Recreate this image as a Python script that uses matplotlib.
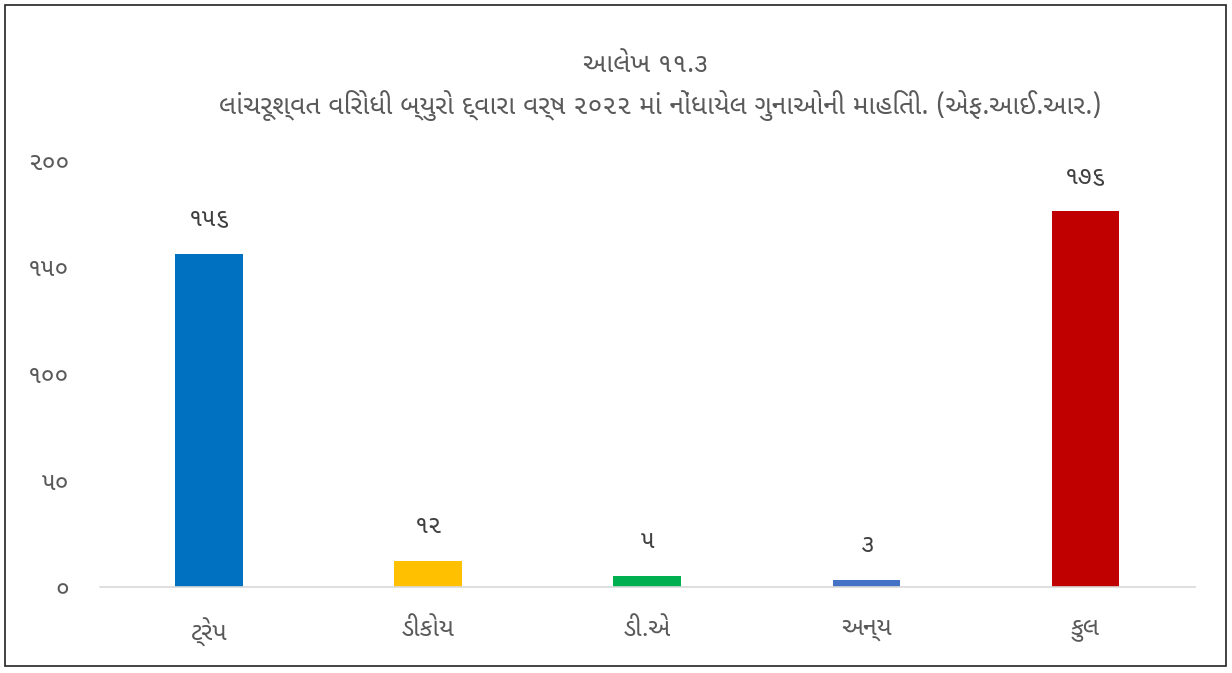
import matplotlib
matplotlib.use("Agg")
import matplotlib.pyplot as plt
from matplotlib.patches import Rectangle

plt.rcParams['font.family'] = ['Noto Sans Gujarati UI', 'DejaVu Sans']

# data
categories = ["ટ્રેપ", "ડીકોય", "ડી.એ", "અન્ય", "કુલ"]
values = [156, 12, 5, 3, 176]
colors = ["#0070C0", "#FFC000", "#00B050", "#4472C4", "#C00000"]
gu_digits = "૦૧૨૩૪૫૬૭૮૯"
yticks = [0, 50, 100, 150, 200]

title_1 = "આલેખ ૧૧.૩"
title_2 = "લાંચરૂશ્વત વિરોધી બ્યુરો દ્વારા વર્ષ ૨૦૨૨ માં નોંધાયેલ ગુનાઓની માહિતી. (એફ.આઈ.આર.)"


def gu_num(n):
    return "".join(gu_digits[int(c)] for c in str(n))


text_grey = "#595959"

fig = plt.figure(figsize=(12.32, 6.73), dpi=100)
ax = fig.add_axes([0.081, 0.128, 0.889, 0.634])

x = range(len(categories))
bars = ax.bar(x, values, width=0.31, color=colors, zorder=2)

for b, v in zip(bars, values):
    ax.annotate(gu_num(v), (b.get_x() + b.get_width() / 2, v),
                xytext=(0, 17), textcoords="offset points",
                ha="center", va="bottom", fontsize=18, color="#404040")

ax.set_xlim(-0.5, len(categories) - 0.5)
ax.set_ylim(0, 200)
ax.set_yticks(yticks)
ax.set_yticklabels([gu_num(t) for t in yticks])
ax.set_xticks(list(x))
ax.set_xticklabels(categories)

ax.tick_params(axis="both", length=0, labelsize=18, labelcolor=text_grey)
ax.tick_params(axis="x", pad=22)
ax.tick_params(axis="y", pad=22)
for s in ["top", "right", "left"]:
    ax.spines[s].set_visible(False)
ax.spines["bottom"].set_color("#D9D9D9")
ax.spines["bottom"].set_linewidth(1.2)

fig.text(0.524, 0.903, title_1, ha="center", va="center", fontsize=19, color=text_grey)
fig.text(0.536, 0.843, title_2, ha="center", va="center", fontsize=19, color=text_grey)

# thin frame round the whole chart
fig.patches.append(Rectangle((0.004, 0.011), 0.991, 0.982, transform=fig.transFigure,
                             fill=False, edgecolor="#222222", linewidth=1.2))

fig.savefig("out.png", dpi=100)
